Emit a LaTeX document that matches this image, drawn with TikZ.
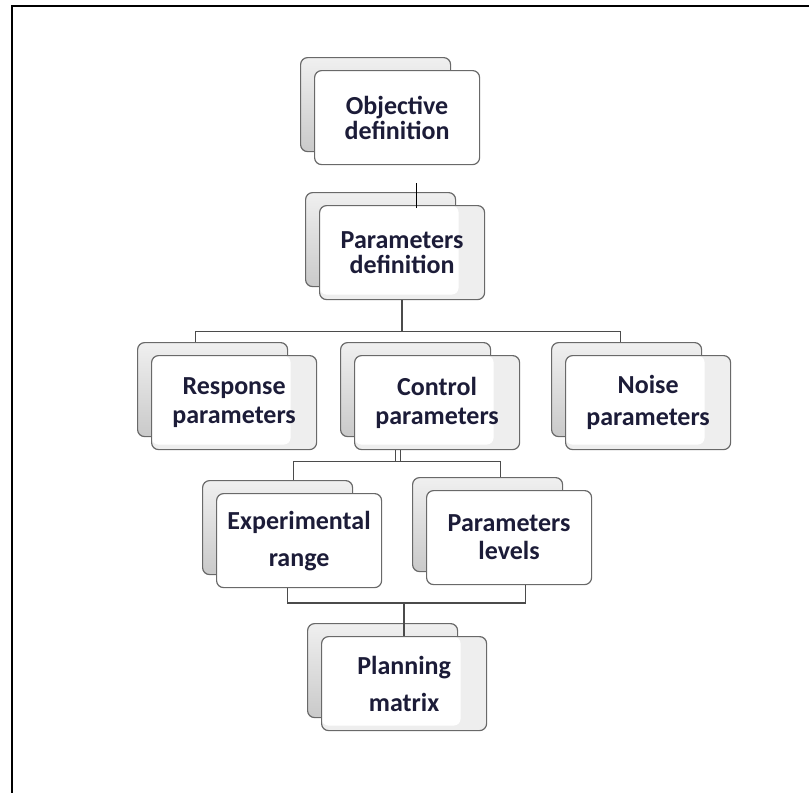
\documentclass[tikz,border=0pt]{standalone}
\usepackage{fontspec}
\setmainfont{Carlito}
\usetikzlibrary{positioning}
\definecolor{ink}{RGB}{28,28,56}
\definecolor{rim}{RGB}{105,105,105}
\definecolor{wire}{RGB}{75,75,75}

\tikzset{
  backbox/.style={draw=rim, line width=1.2pt, rounded corners=7pt, top color=gray!12, bottom color=gray!42,
    minimum width=150pt, minimum height=94pt, inner sep=0pt, anchor=north west},
  frontbox/.style={draw=rim, line width=1.2pt, rounded corners=7pt, fill=white,
    minimum width=165pt, minimum height=94pt, inner sep=0pt, align=center, text=ink,
    font=\fontsize{26}{25}\selectfont\bfseries, below right=13pt and 14pt of #1},
  glossbox/.style={frontbox=#1, fill=gray!13,
    path picture={\fill[white, rounded corners=7pt] (path picture bounding box.north west)
      rectangle ([xshift=-26pt, yshift=5pt]path picture bounding box.south east);}},
  link/.style={draw=wire, line width=1.3pt}
}

\begin{document}
\begin{tikzpicture}[x=1pt, y=-1pt]
  \useasboundingbox (0,0) rectangle (809,793);
  % frame
  \draw[line width=2pt] (809,6) -- (12,6) -- (12,793);

  % boxes
  \node[backbox] (objB) at (300,57) {};
  \node[frontbox=objB.north west] (obj) {Objective\\definition};

  \node[backbox] (parB) at (305,192) {};
  \node[glossbox=parB.north west] (par) {Parameters\\definition};

  \node[backbox] (respB) at (137,342) {};
  \node[glossbox=respB.north west] (resp) {Response\\[4pt]parameters};

  \node[backbox] (ctrlB) at (340,342) {};
  \node[glossbox=ctrlB.north west] (ctrl) {Control\\[4pt]parameters};

  \node[backbox] (noiseB) at (551,342) {};
  \node[glossbox=noiseB.north west] (noise) {Noise\\[7pt]parameters};

  \node[backbox] (expB) at (202,480) {};
  \node[frontbox=expB.north west] (exp) {Experimental\\[12pt]range};

  \node[backbox] (levB) at (412,477) {};
  \node[frontbox=levB.north west] (lev) {Parameters\\[3pt]levels};

  \node[backbox] (planB) at (307,623) {};
  \node[glossbox=planB.north west] (plan) {Planning\\[12pt]matrix};

  % connectors
  \draw[link, draw=black] ([shift={(19.5,18)}]obj.south) -- ([shift={(14.5,3)}]par.north);

  \draw[link] (par.south) -- ++(0,31) coordinate (busA);
  \draw[link] ([shift={(-17,0)}]respB.north) |- (busA) -| ([shift={(-6,0)}]noiseB.north);

  \draw[link] ([shift={(-41.5,0)}]ctrl.south) -- ++(0,11) coordinate (busB);
  \draw[link, line width=1pt] ([shift={(-36.5,0)}]ctrl.south) -- ++(0,11);
  \draw[link] ([shift={(16,0)}]expB.north) |- (busB) -| ([shift={(13,0)}]levB.north);

  \draw[link] (plan.north) -- ++(0,-33) coordinate (busC);
  \draw[link] ([shift={(-11.5,0)}]exp.south) |- (busC) -| ([shift={(16.5,0)}]lev.south);
\end{tikzpicture}
\end{document}
